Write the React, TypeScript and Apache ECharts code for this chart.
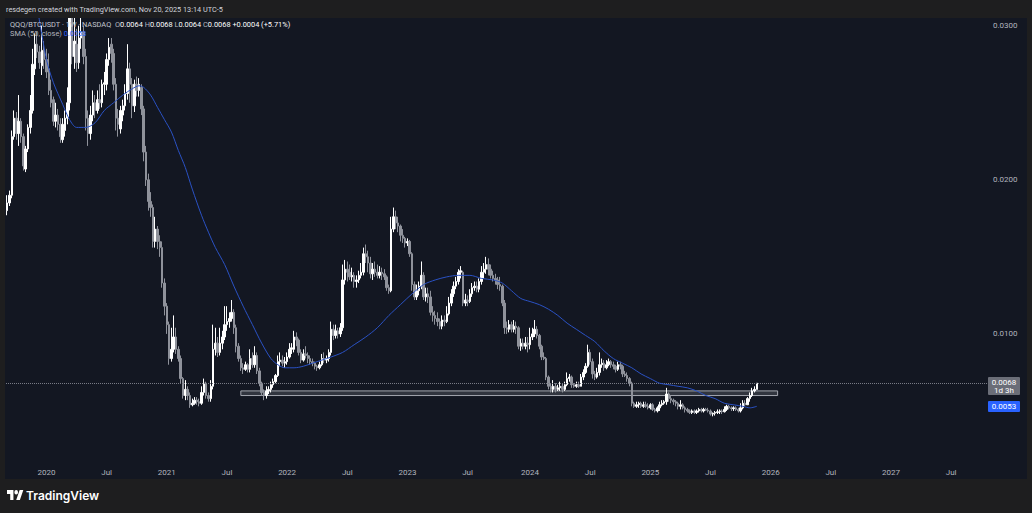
import React, { useEffect, useRef } from "react";
import * as echarts from "echarts";

// ---------- time axis (weekly bars) ----------
const START_WEEK = "2019-09-02";
const WEEK_SLOTS = 424; // weekly slots across the visible time range (incl. empty future)

// ---------- weekly candles [open, high, low, close] ----------
const ohlc2019 = [
  [0.0180, 0.0190, 0.0177, 0.0185], [0.0185, 0.0193, 0.0183, 0.0190], [0.0190, 0.0232, 0.0188, 0.0228],
  [0.0228, 0.0245, 0.0226, 0.0240], [0.0240, 0.0244, 0.0226, 0.0230], [0.0230, 0.0255, 0.0222, 0.0238],
  [0.0238, 0.0240, 0.0224, 0.0228], [0.0228, 0.0230, 0.0206, 0.0209], [0.0207, 0.0222, 0.0205, 0.0220],
  [0.0220, 0.0236, 0.0218, 0.0234], [0.0234, 0.0255, 0.0230, 0.0245], [0.0245, 0.0285, 0.0243, 0.0275],
  [0.0272, 0.0295, 0.0268, 0.0288], [0.0288, 0.0296, 0.0279, 0.0283], [0.0283, 0.0287, 0.0272, 0.0276],
  [0.0274, 0.0300, 0.0268, 0.0284], [0.0284, 0.0290, 0.0272, 0.0278],
];
const ohlc2020 = [
  [0.0278, 0.0285, 0.0266, 0.0270], [0.0272, 0.0282, 0.0255, 0.0258], [0.0258, 0.0265, 0.0247, 0.0250],
  [0.0252, 0.0254, 0.0235, 0.0238], [0.0238, 0.0250, 0.0234, 0.0242], [0.0242, 0.0246, 0.0232, 0.0236],
  [0.0236, 0.0240, 0.0224, 0.0228], [0.0226, 0.0240, 0.0224, 0.0236], [0.0232, 0.0245, 0.0228, 0.0240],
  [0.0240, 0.0260, 0.0236, 0.0250], [0.0250, 0.0420, 0.0245, 0.0330], [0.0330, 0.0345, 0.0275, 0.0280],
  [0.0280, 0.0305, 0.0272, 0.0290], [0.0288, 0.0298, 0.0270, 0.0276], [0.0276, 0.0300, 0.0272, 0.0292],
  [0.0292, 0.0305, 0.0285, 0.0296], [0.0296, 0.0300, 0.0275, 0.0280], [0.0280, 0.0285, 0.0232, 0.0240],
  [0.0240, 0.0245, 0.0222, 0.0230], [0.0230, 0.0248, 0.0226, 0.0242], [0.0242, 0.0258, 0.0238, 0.0250],
  [0.0250, 0.0255, 0.0240, 0.0245], [0.0245, 0.0258, 0.0243, 0.0252], [0.0252, 0.0262, 0.0246, 0.0250],
  [0.0250, 0.0265, 0.0247, 0.0262], [0.0262, 0.0270, 0.0255, 0.0263], [0.0262, 0.0282, 0.0258, 0.0278],
  [0.0278, 0.0292, 0.0274, 0.0286], [0.0288, 0.0292, 0.0276, 0.0282], [0.0282, 0.0285, 0.0258, 0.0262],
  [0.0262, 0.0266, 0.0232, 0.0240], [0.0240, 0.0246, 0.0228, 0.0236], [0.0233, 0.0248, 0.0230, 0.0245],
  [0.0242, 0.0252, 0.0238, 0.0248], [0.0248, 0.0262, 0.0245, 0.0256], [0.0256, 0.0288, 0.0252, 0.0272],
  [0.0272, 0.0276, 0.0250, 0.0262], [0.0262, 0.0266, 0.0240, 0.0248], [0.0248, 0.0265, 0.0244, 0.0262],
  [0.0262, 0.0267, 0.0254, 0.0258], [0.0258, 0.0266, 0.0254, 0.0262], [0.0260, 0.0262, 0.0242, 0.0246],
  [0.0246, 0.0248, 0.0212, 0.0218], [0.0218, 0.0222, 0.0196, 0.0200], [0.0200, 0.0204, 0.0180, 0.0186],
  [0.0186, 0.0192, 0.0176, 0.0182], [0.0182, 0.0184, 0.0156, 0.0160], [0.0160, 0.0176, 0.0156, 0.0168],
  [0.0168, 0.0170, 0.0155, 0.0160], [0.0160, 0.0164, 0.0150, 0.0156], [0.0156, 0.0160, 0.0130, 0.0133],
  [0.0133, 0.0136, 0.0112, 0.0118], [0.0118, 0.0120, 0.0100, 0.0106],
];
const ohlc2021 = [
  [0.0106, 0.0108, 0.0080, 0.0084], [0.0084, 0.0104, 0.0082, 0.0090], [0.0090, 0.0112, 0.0088, 0.0098],
  [0.0098, 0.0104, 0.0087, 0.0090], [0.0090, 0.0092, 0.0082, 0.0084], [0.0084, 0.0086, 0.0068, 0.0071],
  [0.0071, 0.0072, 0.0058, 0.0060], [0.0060, 0.0070, 0.0057, 0.0064], [0.0064, 0.0066, 0.0057, 0.0060],
  [0.0060, 0.0062, 0.0052, 0.0054], [0.0054, 0.0058, 0.0053, 0.0055], [0.0055, 0.0059, 0.0054, 0.0057],
  [0.0057, 0.0059, 0.0054, 0.0056], [0.0056, 0.0058, 0.0053, 0.0055], [0.0055, 0.0066, 0.0054, 0.0062],
  [0.0062, 0.0071, 0.0060, 0.0068], [0.0068, 0.0069, 0.0058, 0.0060], [0.0060, 0.0062, 0.0056, 0.0058],
  [0.0058, 0.0070, 0.0056, 0.0066], [0.0066, 0.0106, 0.0064, 0.0090], [0.0090, 0.0104, 0.0086, 0.0094],
  [0.0094, 0.0098, 0.0085, 0.0088], [0.0088, 0.0104, 0.0086, 0.0094], [0.0094, 0.0102, 0.0090, 0.0098],
  [0.0098, 0.0118, 0.0096, 0.0106], [0.0106, 0.0118, 0.0102, 0.0108], [0.0108, 0.0114, 0.0104, 0.0110],
  [0.0110, 0.0122, 0.0108, 0.0114], [0.0114, 0.0116, 0.0100, 0.0104], [0.0104, 0.0106, 0.0088, 0.0092],
  [0.0092, 0.0094, 0.0082, 0.0084], [0.0084, 0.0086, 0.0076, 0.0078], [0.0078, 0.0081, 0.0074, 0.0077],
  [0.0077, 0.0082, 0.0076, 0.0080], [0.0080, 0.0081, 0.0075, 0.0077], [0.0077, 0.0090, 0.0075, 0.0084],
  [0.0084, 0.0088, 0.0078, 0.0080], [0.0080, 0.0092, 0.0078, 0.0086], [0.0086, 0.0088, 0.0074, 0.0076],
  [0.0076, 0.0078, 0.0066, 0.0068], [0.0068, 0.0069, 0.0060, 0.0062], [0.0062, 0.0064, 0.0057, 0.0060],
  [0.0060, 0.0066, 0.0058, 0.0063], [0.0063, 0.0066, 0.0061, 0.0064], [0.0064, 0.0069, 0.0062, 0.0067],
  [0.0067, 0.0071, 0.0065, 0.0069], [0.0069, 0.0074, 0.0068, 0.0073], [0.0073, 0.0086, 0.0072, 0.0082],
  [0.0082, 0.0088, 0.0079, 0.0083], [0.0083, 0.0086, 0.0079, 0.0081], [0.0081, 0.0085, 0.0078, 0.0082],
  [0.0082, 0.0088, 0.0080, 0.0085],
];
const ohlc2022 = [
  [0.0085, 0.0094, 0.0084, 0.0090], [0.0090, 0.0094, 0.0087, 0.0091], [0.0090, 0.0102, 0.0088, 0.0098],
  [0.0098, 0.0101, 0.0092, 0.0096], [0.0096, 0.0097, 0.0086, 0.0088], [0.0088, 0.0090, 0.0081, 0.0083],
  [0.0083, 0.0090, 0.0082, 0.0087], [0.0087, 0.0092, 0.0084, 0.0086], [0.0086, 0.0088, 0.0081, 0.0084],
  [0.0084, 0.0086, 0.0080, 0.0082], [0.0082, 0.0084, 0.0079, 0.0081], [0.0081, 0.0082, 0.0077, 0.0079],
  [0.0079, 0.0080, 0.0076, 0.0078], [0.0078, 0.0082, 0.0077, 0.0080], [0.0080, 0.0087, 0.0079, 0.0084],
  [0.0084, 0.0088, 0.0081, 0.0083], [0.0083, 0.0086, 0.0081, 0.0084], [0.0084, 0.0090, 0.0082, 0.0088],
  [0.0088, 0.0108, 0.0086, 0.0103], [0.0103, 0.0106, 0.0096, 0.0099], [0.0099, 0.0106, 0.0097, 0.0102],
  [0.0102, 0.0104, 0.0097, 0.0100], [0.0100, 0.0107, 0.0098, 0.0104], [0.0104, 0.0145, 0.0102, 0.0135],
  [0.0135, 0.0148, 0.0132, 0.0142], [0.0142, 0.0147, 0.0134, 0.0140], [0.0140, 0.0145, 0.0135, 0.0137],
  [0.0137, 0.0143, 0.0134, 0.0138], [0.0138, 0.0140, 0.0130, 0.0134], [0.0134, 0.0138, 0.0130, 0.0135],
  [0.0135, 0.0141, 0.0133, 0.0138], [0.0138, 0.0146, 0.0136, 0.0140], [0.0140, 0.0156, 0.0138, 0.0152],
  [0.0152, 0.0158, 0.0146, 0.0150], [0.0150, 0.0154, 0.0140, 0.0146], [0.0146, 0.0150, 0.0136, 0.0139],
  [0.0139, 0.0146, 0.0135, 0.0142], [0.0142, 0.0147, 0.0137, 0.0140], [0.0140, 0.0145, 0.0136, 0.0138],
  [0.0138, 0.0144, 0.0136, 0.0140], [0.0140, 0.0143, 0.0135, 0.0139], [0.0139, 0.0142, 0.0135, 0.0137],
  [0.0137, 0.0138, 0.0128, 0.0130], [0.0130, 0.0132, 0.0126, 0.0128], [0.0128, 0.0176, 0.0127, 0.0168],
  [0.0168, 0.0182, 0.0166, 0.0176], [0.0176, 0.0180, 0.0168, 0.0172], [0.0172, 0.0176, 0.0166, 0.0170],
  [0.0170, 0.0171, 0.0160, 0.0164], [0.0164, 0.0168, 0.0159, 0.0162], [0.0162, 0.0163, 0.0156, 0.0159],
  [0.0159, 0.0162, 0.0157, 0.0160],
];
const ohlc2023 = [
  [0.0160, 0.0161, 0.0150, 0.0152], [0.0152, 0.0153, 0.0128, 0.0132], [0.0132, 0.0134, 0.0122, 0.0124],
  [0.0124, 0.0132, 0.0122, 0.0128], [0.0128, 0.0134, 0.0125, 0.0131], [0.0131, 0.0147, 0.0129, 0.0138],
  [0.0138, 0.0140, 0.0122, 0.0124], [0.0124, 0.0130, 0.0121, 0.0126], [0.0126, 0.0130, 0.0120, 0.0124],
  [0.0124, 0.0128, 0.0112, 0.0114], [0.0114, 0.0118, 0.0108, 0.0112], [0.0112, 0.0115, 0.0106, 0.0110],
  [0.0110, 0.0114, 0.0105, 0.0108], [0.0108, 0.0110, 0.0103, 0.0105], [0.0105, 0.0112, 0.0103, 0.0109],
  [0.0109, 0.0112, 0.0105, 0.0108], [0.0108, 0.0118, 0.0107, 0.0113], [0.0113, 0.0124, 0.0112, 0.0120],
  [0.0120, 0.0129, 0.0118, 0.0126], [0.0126, 0.0134, 0.0124, 0.0131], [0.0131, 0.0137, 0.0129, 0.0134],
  [0.0134, 0.0142, 0.0132, 0.0140], [0.0140, 0.0144, 0.0136, 0.0141], [0.0140, 0.0141, 0.0118, 0.0120],
  [0.0120, 0.0126, 0.0118, 0.0122], [0.0122, 0.0125, 0.0118, 0.0121], [0.0121, 0.0129, 0.0120, 0.0126],
  [0.0126, 0.0133, 0.0124, 0.0130], [0.0130, 0.0134, 0.0128, 0.0131], [0.0131, 0.0134, 0.0127, 0.0129],
  [0.0129, 0.0136, 0.0127, 0.0134], [0.0134, 0.0144, 0.0132, 0.0140], [0.0140, 0.0146, 0.0136, 0.0142],
  [0.0142, 0.0150, 0.0139, 0.0145], [0.0145, 0.0149, 0.0138, 0.0142], [0.0142, 0.0145, 0.0136, 0.0138],
  [0.0138, 0.0141, 0.0134, 0.0136], [0.0136, 0.0139, 0.0132, 0.0135], [0.0135, 0.0137, 0.0129, 0.0132],
  [0.0132, 0.0137, 0.0128, 0.0131], [0.0131, 0.0132, 0.0118, 0.0120], [0.0120, 0.0122, 0.0100, 0.0104],
  [0.0104, 0.0108, 0.0100, 0.0103], [0.0103, 0.0109, 0.0101, 0.0106], [0.0106, 0.0108, 0.0101, 0.0103],
  [0.0103, 0.0109, 0.0101, 0.0105], [0.0105, 0.0108, 0.0100, 0.0104], [0.0104, 0.0105, 0.0090, 0.0092],
  [0.0092, 0.0097, 0.0089, 0.0094], [0.0094, 0.0097, 0.0090, 0.0092], [0.0092, 0.0098, 0.0090, 0.0094],
  [0.0094, 0.0098, 0.0088, 0.0093],
];
const ohlc2024 = [
  [0.0093, 0.0104, 0.0090, 0.0098], [0.0098, 0.0104, 0.0096, 0.0100], [0.0100, 0.0109, 0.0098, 0.0103],
  [0.0103, 0.0105, 0.0097, 0.0099], [0.0099, 0.0100, 0.0090, 0.0092], [0.0092, 0.0093, 0.0083, 0.0085],
  [0.0085, 0.0088, 0.0083, 0.0084], [0.0084, 0.0085, 0.0070, 0.0072], [0.0072, 0.0073, 0.0064, 0.0066],
  [0.0066, 0.0068, 0.0062, 0.0064], [0.0064, 0.0070, 0.0062, 0.0066], [0.0066, 0.0068, 0.0062, 0.0064],
  [0.0064, 0.0067, 0.0063, 0.0065], [0.0065, 0.0069, 0.0063, 0.0066], [0.0066, 0.0068, 0.0062, 0.0064],
  [0.0064, 0.0069, 0.0063, 0.0067], [0.0067, 0.0075, 0.0066, 0.0071], [0.0071, 0.0074, 0.0069, 0.0072],
  [0.0072, 0.0073, 0.0065, 0.0067], [0.0067, 0.0068, 0.0065, 0.0066], [0.0066, 0.0069, 0.0065, 0.0067],
  [0.0067, 0.0069, 0.0065, 0.0066], [0.0066, 0.0074, 0.0066, 0.0072], [0.0072, 0.0077, 0.0070, 0.0075],
  [0.0075, 0.0081, 0.0074, 0.0079], [0.0079, 0.0093, 0.0078, 0.0088], [0.0088, 0.0090, 0.0080, 0.0082],
  [0.0082, 0.0084, 0.0071, 0.0074], [0.0074, 0.0076, 0.0070, 0.0072], [0.0072, 0.0078, 0.0071, 0.0075],
  [0.0075, 0.0088, 0.0073, 0.0080], [0.0080, 0.0084, 0.0078, 0.0081], [0.0081, 0.0083, 0.0076, 0.0078],
  [0.0078, 0.0083, 0.0077, 0.0080], [0.0080, 0.0084, 0.0079, 0.0082], [0.0082, 0.0083, 0.0078, 0.0080],
  [0.0080, 0.0082, 0.0077, 0.0079], [0.0079, 0.0080, 0.0075, 0.0077], [0.0077, 0.0082, 0.0076, 0.0080],
  [0.0080, 0.0082, 0.0077, 0.0079], [0.0079, 0.0080, 0.0072, 0.0074], [0.0074, 0.0076, 0.0072, 0.0073],
  [0.0073, 0.0075, 0.0069, 0.0071], [0.0071, 0.0072, 0.0066, 0.0068], [0.0068, 0.0069, 0.0053, 0.0055],
  [0.0055, 0.0056, 0.0052, 0.0053], [0.0053, 0.0056, 0.0052, 0.0054], [0.0054, 0.0056, 0.0052, 0.0055],
  [0.0055, 0.0056, 0.0052, 0.0053], [0.0053, 0.0056, 0.0052, 0.0054], [0.0054, 0.0056, 0.0052, 0.0053],
  [0.0053, 0.0055, 0.0051, 0.0052],
];
const ohlc2025 = [
  [0.0052, 0.0055, 0.0051, 0.0054], [0.0054, 0.0055, 0.0050, 0.0051], [0.0051, 0.0052, 0.0049, 0.0050],
  [0.0050, 0.0053, 0.0049, 0.0052], [0.0052, 0.0056, 0.0050, 0.0054], [0.0054, 0.0057, 0.0053, 0.0055],
  [0.0055, 0.0057, 0.0054, 0.0056], [0.0056, 0.0065, 0.0054, 0.0061], [0.0061, 0.0062, 0.0056, 0.0058],
  [0.0058, 0.0060, 0.0055, 0.0057], [0.0057, 0.0058, 0.0054, 0.0056], [0.0056, 0.0057, 0.0053, 0.0055],
  [0.0055, 0.0056, 0.0051, 0.0053], [0.0053, 0.0057, 0.0051, 0.0054], [0.0054, 0.0055, 0.0051, 0.0052],
  [0.0052, 0.0053, 0.0049, 0.0051], [0.0051, 0.0052, 0.0049, 0.0050], [0.0050, 0.0051, 0.0048, 0.0049],
  [0.0049, 0.0051, 0.0048, 0.0050], [0.0050, 0.0051, 0.0048, 0.0049], [0.0049, 0.0051, 0.0048, 0.0050],
  [0.0050, 0.0052, 0.0049, 0.0051], [0.0051, 0.0052, 0.0049, 0.0050], [0.0050, 0.0052, 0.0049, 0.0051],
  [0.0051, 0.0052, 0.0050, 0.00505], [0.00505, 0.0052, 0.0049, 0.0050], [0.0050, 0.0051, 0.0047, 0.0048],
  [0.0048, 0.0049, 0.00465, 0.00485], [0.00485, 0.0050, 0.0047, 0.0049], [0.0049, 0.0051, 0.0048, 0.00495],
  [0.00495, 0.0051, 0.0048, 0.0050], [0.0050, 0.0051, 0.0048, 0.00495], [0.00495, 0.0053, 0.0049, 0.0051],
  [0.0051, 0.0054, 0.0050, 0.0053], [0.0053, 0.0054, 0.0051, 0.0052], [0.0052, 0.0053, 0.0050, 0.00515],
  [0.00515, 0.0053, 0.0050, 0.0052], [0.0052, 0.0053, 0.0050, 0.0051], [0.0051, 0.0052, 0.0049, 0.0050],
  [0.0050, 0.0055, 0.0049, 0.0052], [0.0052, 0.0057, 0.0051, 0.0055], [0.0055, 0.0057, 0.0053, 0.0054],
  [0.0054, 0.0059, 0.0054, 0.0058], [0.0058, 0.0062, 0.0056, 0.0060], [0.0060, 0.0065, 0.0059, 0.0063],
  [0.0063, 0.0066, 0.0062, 0.0064], [0.0064, 0.0068, 0.0064, 0.0068],
];

// ---------- SMA (50, close), read at sampled weeks ----------
const smaWeek = [
  13, 17, 20, 24, 27, 30, 34, 38, 42, 46, 50, 54, 57, 59, 62, 65, 68, 71, 74, 77, 80, 84, 87, 90, 94,
  98, 102, 106, 110, 114, 117, 120, 124, 128, 132, 136, 140, 145, 150, 155, 160, 165, 170, 175, 180,
  185, 190, 195, 200, 205, 210, 214, 218, 222, 226, 230, 234, 238, 242, 246, 250, 254, 258, 262, 266,
  270, 274, 278, 282, 286, 290, 294, 298, 302, 306, 310, 314, 318, 321, 324,
];
const smaValue = [
  0.0312, 0.0278, 0.0263, 0.0249, 0.0239, 0.0234, 0.0234, 0.0237, 0.0245, 0.0250, 0.0255, 0.0259,
  0.0261, 0.0260, 0.0255, 0.0247, 0.0239, 0.0231, 0.0219, 0.0208, 0.0194, 0.0177, 0.0166, 0.0156,
  0.0145, 0.0131, 0.0118, 0.0106, 0.0094, 0.0084, 0.0080, 0.0078, 0.0078, 0.0079, 0.0081, 0.0083,
  0.0085, 0.0088, 0.0093, 0.0098, 0.0104, 0.0112, 0.0119, 0.0126, 0.0132, 0.0135, 0.0137, 0.0138,
  0.0138, 0.0136, 0.0135, 0.0133, 0.0128, 0.0123, 0.0121, 0.0119, 0.0116, 0.0112, 0.0107, 0.0103,
  0.0099, 0.0095, 0.0089, 0.0084, 0.0081, 0.0078, 0.0074, 0.0071, 0.0068, 0.0067, 0.0066, 0.0065,
  0.0063, 0.0060, 0.0058, 0.0055, 0.0054, 0.0053, 0.0052, 0.0053,
];

// ---------- price scale & annotations ----------
const priceTicks = [0.01, 0.02, 0.03];
const lastPrice = 0.0068;
const lastSma = 0.0053;
const zoneTop = 0.0063;
const zoneBottom = 0.0060;
const zoneStartWeek = 101;
const zoneEndWeek = 333;

const headerText = "resdegen created with TradingView.com, Nov 20, 2025 13:14 UTC-5";
const symbolText = "QQQ/BTCUSDT · 1W · NASDAQ";
const ohlcLegend = [
  ["O", "0.0064"],
  ["H", "0.0068"],
  ["L", "0.0064"],
  ["C", "0.0068"],
];
const changeText = "+0.0004 (+5.71%)";
const smaLabel = "SMA (50, close)";
const countdownText = "1d 3h";

const TV_LOGO_PATH =
  "M14 22H7V11H0V4h14v18zM28 22h-8l7.5-18h8L28 22zM24 8a4 4 0 1 1-8 0a4 4 0 1 1 8 0z";

function buildWeeks(start: string, count: number): string[] {
  const out: string[] = [];
  const t0 = Date.parse(start + "T00:00:00Z");
  for (let i = 0; i < count; i++) {
    out.push(new Date(t0 + i * 7 * 86400000).toISOString().slice(0, 10));
  }
  return out;
}

function periodLabel(dateStr: string): string {
  const d = new Date(dateStr + "T00:00:00Z");
  const e = new Date(d.getTime() + 6 * 86400000);
  let m = -1;
  let y = 0;
  if (d.getUTCDate() === 1) {
    m = d.getUTCMonth();
    y = d.getUTCFullYear();
  } else if (e.getUTCMonth() !== d.getUTCMonth()) {
    m = e.getUTCMonth();
    y = e.getUTCFullYear();
  }
  if (m === 0) return String(y);
  if (m === 6) return "Jul";
  return "";
}

let logoRegistered = false;

export default function App() {
  const ref = useRef<HTMLDivElement>(null);

  useEffect(() => {
    if (!ref.current) return;
    if (!logoRegistered) {
      echarts.graphic.registerShape("tvlogo", echarts.graphic.extendPath(TV_LOGO_PATH, {}) as any);
      logoRegistered = true;
    }
    const chart = echarts.init(ref.current, null, { renderer: "svg" });

    const weeks = buildWeeks(START_WEEK, WEEK_SLOTS);
    const labels = weeks.map(periodLabel);
    const candles = [...ohlc2019, ...ohlc2020, ...ohlc2021, ...ohlc2022, ...ohlc2023, ...ohlc2024, ...ohlc2025];
    const candleData = candles.map(([o, h, l, c]) => [o, c, l, h]);
    const smaData = smaWeek.map((w, k) => [weeks[w], smaValue[k]]);

    const frame = "#1e1e1f";
    const W = 1032;
    const H = 513;
    const font = "Roboto, 'Noto Sans', sans-serif";
    const fs = 7.4;

    const legendRich =
      `{n|${symbolText}}  ` +
      ohlcLegend.map(([k, v]) => `{k|${k}}{v|${v}}`).join(" ") +
      ` {v|${changeText}}`;

    chart.setOption({
      animation: false,
      backgroundColor: "#131722",
      grid: { left: 6, right: W - 987, top: 18, bottom: H - 488, containLabel: false },
      xAxis: {
        type: "category",
        data: weeks,
        boundaryGap: true,
        axisLine: { show: false },
        axisTick: { show: false },
        splitLine: { show: false },
        axisLabel: {
          inside: true,
          margin: 12,
          color: "#b2b5be",
          fontSize: 8,
          fontFamily: font,
          interval: (i: number) => labels[i] !== "",
          formatter: (_v: string, i: number) => labels[i],
        },
      },
      yAxis: {
        type: "value",
        position: "right",
        min: 0,
        max: 0.0305,
        interval: 0.01,
        axisLine: { show: false },
        axisTick: { show: false },
        splitLine: { show: false },
        axisLabel: {
          margin: 6,
          color: "#b2b5be",
          fontSize: 8,
          fontFamily: font,
          formatter: (v: number) =>
            priceTicks.some((t) => Math.abs(t - v) < 1e-9) ? v.toFixed(4) : "",
        },
      },
      series: [
        {
          type: "candlestick",
          data: candleData,
          barWidth: 2,
          clip: true,
          itemStyle: {
            color: "#ffffff",
            color0: "#8f929b",
            borderColor: "#ffffff",
            borderColor0: "#8f929b",
            borderWidth: 1,
          },
          markLine: {
            silent: true,
            precision: 4,
            symbol: ["none", "none"],
            label: { show: false },
            lineStyle: { type: "dotted", color: "#787b86", width: 1 },
            data: [{ yAxis: lastPrice }],
          },
          markArea: {
            silent: true,
            itemStyle: {
              color: "rgba(120,123,134,0.3)",
              borderColor: "#a3a6af",
              borderWidth: 1,
            },
            data: [
              [
                { xAxis: weeks[zoneStartWeek], yAxis: zoneTop },
                { xAxis: weeks[zoneEndWeek], yAxis: zoneBottom },
              ],
            ],
          },
        },
        {
          type: "line",
          data: smaData,
          showSymbol: false,
          smooth: 0.3,
          clip: true,
          z: 5,
          lineStyle: { color: "#2b52c4", width: 1 },
        },
      ],
      graphic: [
        // outer frame of the snapshot
        { type: "rect", z: 100, shape: { x: 0, y: 0, width: W, height: 18 }, style: { fill: frame } },
        { type: "rect", z: 100, shape: { x: 0, y: 479, width: W, height: H - 479 }, style: { fill: frame } },
        { type: "rect", z: 100, shape: { x: 0, y: 0, width: 5, height: H }, style: { fill: frame } },
        { type: "rect", z: 100, shape: { x: 1027, y: 0, width: 5, height: H }, style: { fill: frame } },
        {
          type: "text",
          z: 110,
          x: 6,
          y: 9,
          style: { text: headerText, fill: "#d1d4dc", fontSize: 7.3, fontFamily: font, verticalAlign: "middle" },
        },
        {
          type: "text",
          z: 110,
          x: 10,
          y: 24,
          style: {
            text: legendRich,
            fontSize: fs,
            fontFamily: font,
            verticalAlign: "middle",
            fill: "#d1d4dc",
            rich: {
              n: { fill: "#c3c6ce", fontSize: fs, fontFamily: font },
              k: { fill: "#b2b5be", fontSize: fs, fontFamily: font },
              v: { fill: "#ffffff", fontSize: fs, fontFamily: font },
            },
          },
        },
        {
          type: "text",
          z: 110,
          x: 10,
          y: 33,
          style: {
            text: `{k|${smaLabel}} {b|${lastSma.toFixed(4)}}`,
            fontSize: fs,
            fontFamily: font,
            verticalAlign: "middle",
            rich: {
              k: { fill: "#b2b5be", fontSize: fs, fontFamily: font },
              b: { fill: "#2962ff", fontSize: fs, fontFamily: font },
            },
          },
        },
        // price labels on the scale
        { type: "rect", z: 110, shape: { x: 988, y: 377, width: 32, height: 18, r: 1 }, style: { fill: "#6b6e78" } },
        {
          type: "text",
          z: 111,
          x: 1004,
          y: 382,
          style: { text: lastPrice.toFixed(4), fill: "#ffffff", fontSize: 8, fontFamily: font, align: "center", verticalAlign: "middle" },
        },
        {
          type: "text",
          z: 111,
          x: 1004,
          y: 390.5,
          style: { text: countdownText, fill: "#ffffff", fontSize: 8, fontFamily: font, align: "center", verticalAlign: "middle" },
        },
        { type: "rect", z: 110, shape: { x: 988, y: 401, width: 32, height: 11, r: 1 }, style: { fill: "#2962ff" } },
        {
          type: "text",
          z: 111,
          x: 1004,
          y: 406.5,
          style: { text: lastSma.toFixed(4), fill: "#ffffff", fontSize: 8, fontFamily: font, align: "center", verticalAlign: "middle" },
        },
        // TradingView mark
        { type: "tvlogo", z: 110, x: 7, y: 487.8, scaleX: 0.46, scaleY: 0.56, style: { fill: "#ffffff" } },
        {
          type: "text",
          z: 110,
          x: 26,
          y: 495,
          style: { text: "TradingView", fill: "#ffffff", fontSize: 12, fontWeight: 600, fontFamily: "Inter, Roboto, sans-serif", verticalAlign: "middle" },
        },
      ],
    });

    return () => chart.dispose();
  }, []);

  return <div ref={ref} style={{ position: "fixed", left: 0, top: 0, width: 1032, height: 513 }} />;
}
